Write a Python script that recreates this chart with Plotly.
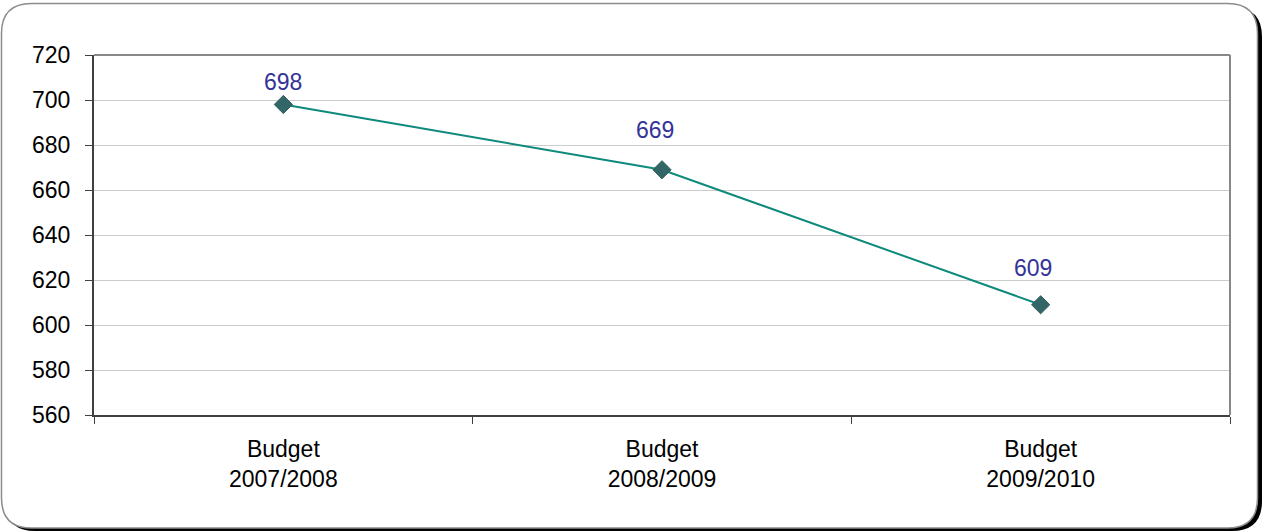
import plotly.graph_objects as go

# Budget data
categories = ["Budget<br>2007/2008", "Budget<br>2008/2009", "Budget<br>2009/2010"]
values = [698, 669, 609]
y_ticks = [560, 580, 600, 620, 640, 660, 680, 700, 720]

# value-label placement relative to each point (pixels)
label_shift_x = [0, -7, -8]
label_shift_y = [23, 40, 37]

FONT = "Liberation Sans, Arial, sans-serif"
FS = 23
W, H = 1264, 531
ML, MR, MT, MB = 94, 34, 55, 116
PW, PH = W - ML - MR, H - MT - MB


def px(x):
    return (x - ML) / PW


def py(y):
    return (H - MB - y) / PH


def rounded_rect(x0, y0, x1, y1, r):
    # pixel box -> paper-coordinate path with quadratic corners
    pts = [
        ("M", [(x0 + r, y0)]),
        ("L", [(x1 - r, y0)]),
        ("Q", [(x1, y0), (x1, y0 + r)]),
        ("L", [(x1, y1 - r)]),
        ("Q", [(x1, y1), (x1 - r, y1)]),
        ("L", [(x0 + r, y1)]),
        ("Q", [(x0, y1), (x0, y1 - r)]),
        ("L", [(x0, y0 + r)]),
        ("Q", [(x0, y0), (x0 + r, y0)]),
    ]
    s = ""
    for cmd, coords in pts:
        s += cmd + " " + " ".join(f"{px(a):.5f},{py(b):.5f}" for a, b in coords) + " "
    return s + "Z"


fig = go.Figure()
fig.add_trace(go.Scatter(
    x=categories, y=values, mode="lines+markers",
    line=dict(color="#0e8a7c", width=2),
    marker=dict(symbol="diamond", size=14, color="#336666",
                line=dict(color="#2e5c5c", width=1)),
    hoverinfo="skip", showlegend=False,
))

for c, v, dx, dy in zip(categories, values, label_shift_x, label_shift_y):
    fig.add_annotation(x=c, y=v, text=str(v), showarrow=False,
                       xshift=dx, yshift=dy,
                       font=dict(family=FONT, size=FS, color="#333399"))

shapes = [
    # card shadow and card
    dict(type="path", xref="paper", yref="paper", layer="below",
         path=rounded_rect(5, 7, 1262, 531, 30), fillcolor="#000000",
         line=dict(width=0)),
    dict(type="path", xref="paper", yref="paper", layer="below",
         path=rounded_rect(1.5, 3.5, 1257.5, 528, 30), fillcolor="#ffffff",
         line=dict(color="#8c8c8c", width=1.5)),
    # top and right plot frame
    dict(type="line", xref="paper", yref="paper", x0=0, x1=1, y0=1, y1=1,
         line=dict(color="#888888", width=2)),
    dict(type="line", xref="paper", yref="paper", x0=1, x1=1, y0=0, y1=1,
         line=dict(color="#888888", width=2)),
]

fig.update_layout(
    width=W, height=H,
    margin=dict(l=ML, r=MR, t=MT, b=MB),
    paper_bgcolor="#ffffff", plot_bgcolor="rgba(0,0,0,0)",
    font=dict(family=FONT, size=FS, color="#000000"),
    shapes=shapes,
    xaxis=dict(type="category", range=[-0.5, 2.5], tickson="boundaries",
               ticks="outside", ticklen=7, tickcolor="#404040", tickwidth=1,
               ticklabelstandoff=12,
               showline=True, linecolor="#404040", linewidth=2,
               showgrid=False, zeroline=False,
               tickfont=dict(family=FONT, size=FS, color="#000000")),
    yaxis=dict(range=[560, 720], tickvals=y_ticks, ticks="outside", ticklen=7,
               tickcolor="#404040", tickwidth=1, ticklabelstandoff=10,
               showline=True, linecolor="#404040", linewidth=2,
               showgrid=True, gridcolor="#cccccc", gridwidth=1,
               zeroline=False,
               tickfont=dict(family=FONT, size=FS, color="#000000")),
)

fig.write_html("out.html")
